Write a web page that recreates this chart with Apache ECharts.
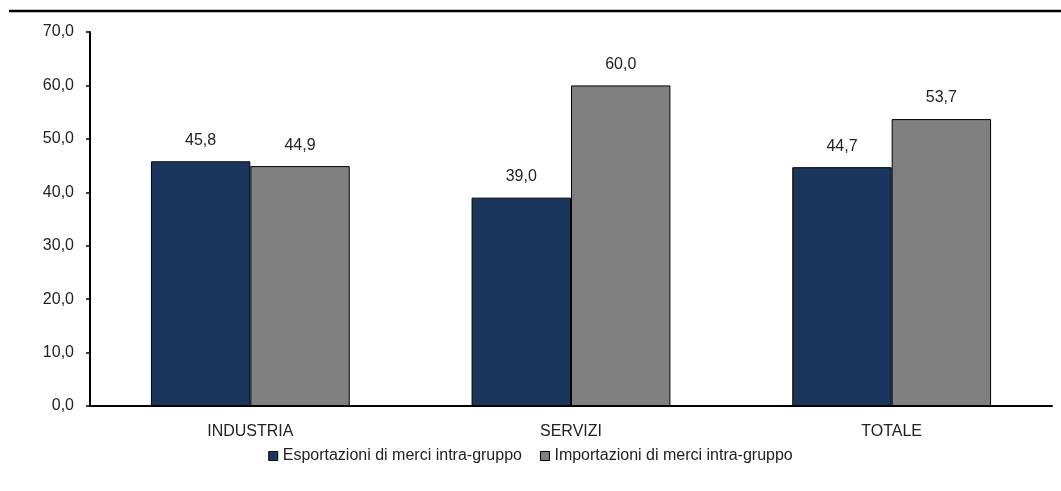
<!DOCTYPE html>
<html>
<head>
<meta charset="utf-8">
<script src="https://cdn.jsdelivr.net/npm/echarts@6/dist/echarts.min.js"></script>
<style>
  html, body { margin: 0; padding: 0; background: #fff; }
  #chart { width: 1061px; height: 491px; }
</style>
</head>
<body>
<div id="chart"></div>
<script>
// Quota di scambi intra-gruppo per settore
const categories = ['INDUSTRIA', 'SERVIZI', 'TOTALE'];
const esportazioni = [45.8, 39.0, 44.7];
const importazioni = [44.9, 60.0, 53.7];
const seriesNames = ['Esportazioni di merci intra-gruppo', 'Importazioni di merci intra-gruppo'];

const FONT = '"Liberation Sans Narrow", "Liberation Sans", Arial, sans-serif';
const FS = 16;
const fmt = v => v.toFixed(1).replace('.', ',');

const chart = echarts.init(document.getElementById('chart'));

const barSeries = (name, data, color) => ({
  name,
  type: 'bar',
  data,
  barWidth: '31%',
  barGap: '0%',
  itemStyle: { color, borderColor: '#000', borderWidth: 1 },
  label: {
    show: true,
    position: 'top',
    distance: 13,
    color: '#222',
    fontFamily: FONT,
    fontSize: FS,
    formatter: p => fmt(p.value)
  }
});

chart.setOption({
  animation: false,
  grid: { left: 90, right: 9, top: 32, bottom: 85 },
  graphic: [{
    type: 'line',
    shape: { x1: 9, y1: 11, x2: 1061, y2: 11 },
    style: { stroke: '#000', lineWidth: 2.5 }
  }],
  legend: {
    top: 443,
    left: 'center',
    itemWidth: 9,
    itemHeight: 9,
    itemGap: 18,
    icon: 'rect',
    textStyle: { fontFamily: FONT, fontSize: FS, color: '#222' },
    data: seriesNames.map((n, i) => ({
      name: n,
      itemStyle: { borderColor: '#000', borderWidth: 1, color: i === 0 ? '#1b365d' : '#808080' }
    }))
  },
  xAxis: {
    type: 'category',
    data: categories,
    axisLine: { lineStyle: { color: '#000', width: 2 } },
    axisTick: { show: false },
    axisLabel: { fontFamily: FONT, fontSize: FS, color: '#222', margin: 18 }
  },
  yAxis: {
    type: 'value',
    min: 0,
    max: 70,
    interval: 10,
    axisLine: { show: true, lineStyle: { color: '#000', width: 2 } },
    axisTick: { show: true, inside: false, length: 4, lineStyle: { color: '#000', width: 1.5 } },
    splitLine: { show: false },
    axisLabel: { fontFamily: FONT, fontSize: FS, color: '#222', margin: 16, formatter: v => fmt(v) }
  },
  series: [
    barSeries(seriesNames[0], esportazioni, '#1b365d'),
    barSeries(seriesNames[1], importazioni, '#808080')
  ]
});
</script>
</body>
</html>
